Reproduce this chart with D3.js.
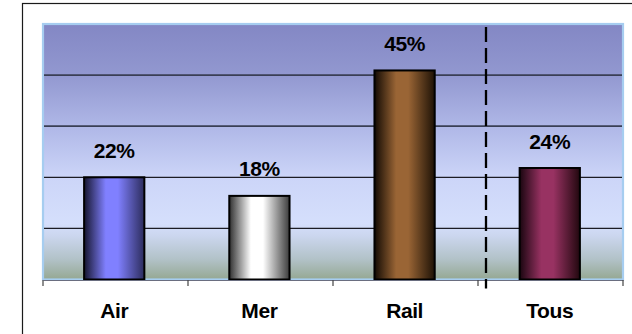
<!DOCTYPE html>
<html>
<head>
<meta charset="utf-8">
<script src="https://cdn.jsdelivr.net/npm/d3@7"></script>
<style>
  html, body { margin: 0; padding: 0; background: #ffffff; }
  svg { display: block; }
  text { font-family: "Liberation Sans", Arial, sans-serif; font-weight: bold; fill: #000; letter-spacing: -0.4px; }
</style>
</head>
<body>
<svg id="chart" width="632" height="334"></svg>
<script>
// Share by transport mode
const categories = ["Air", "Mer", "Rail", "Tous"];
const values = [0.22, 0.18, 0.45, 0.24];
const valueLabels = ["22%", "18%", "45%", "24%"];
const gridValues = [0.11, 0.22, 0.33, 0.44];
// bar shading: [edge, centre, far edge]
const barShades = [
  ["#15152e", "#8080ff", "#2c2c5c"],
  ["#303030", "#ffffff", "#3c3c3c"],
  ["#120a03", "#9a6535", "#1e1206"],
  ["#1a0610", "#983262", "#22080f"]
];

const svg = d3.select("#chart");
const plot = { left: 43, right: 623, top: 24, bottom: 279.5 };

const x = d3.scaleBand()
  .domain(categories)
  .range([plot.left, plot.right])
  .paddingInner(0.585)
  .paddingOuter(0.29);

const band = d3.scaleBand().domain(categories).range([plot.left, plot.right]);

const y = d3.scaleLinear()
  .domain([0, 0.55])
  .range([plot.bottom, plot.top]);

const defs = svg.append("defs");

// plot background: violet at top, pale blue in the middle, grey-green at the floor
const bg = defs.append("linearGradient")
  .attr("id", "bg").attr("x1", 0).attr("y1", 0).attr("x2", 0).attr("y2", 1);
[
  [0.00, "#8387c4"],
  [0.20, "#9298d0"],
  [0.40, "#afb7e7"],
  [0.60, "#ccd5f8"],
  [0.78, "#d5dffc"],
  [0.83, "#cbd6ee"],
  [0.92, "#b2c2c8"],
  [1.00, "#95a893"]
].forEach(([o, c]) => bg.append("stop").attr("offset", o).attr("stop-color", c));

barShades.forEach((s, i) => {
  const g = defs.append("linearGradient")
    .attr("id", "bar" + i).attr("x1", 0).attr("y1", 0).attr("x2", 1).attr("y2", 0);
  g.append("stop").attr("offset", 0).attr("stop-color", s[0]);
  g.append("stop").attr("offset", 0.36).attr("stop-color", s[1]);
  g.append("stop").attr("offset", 0.56).attr("stop-color", s[1]);
  g.append("stop").attr("offset", 1).attr("stop-color", s[2]);
});

// outer frame
svg.append("rect")
  .attr("x", 22.5).attr("y", 3.5)
  .attr("width", 800).attr("height", 500)
  .attr("fill", "none").attr("stroke", "#1a1a1a").attr("stroke-width", 1.2);

// plot area
svg.append("rect")
  .attr("x", plot.left).attr("y", plot.top)
  .attr("width", plot.right - plot.left).attr("height", plot.bottom - plot.top)
  .attr("fill", "url(#bg)")
  .attr("stroke", "#a6cdf0").attr("stroke-width", 2.2);

// horizontal gridlines
svg.append("g").selectAll("line")
  .data(gridValues)
  .join("line")
  .attr("x1", plot.left + 1).attr("x2", plot.right - 1)
  .attr("y1", d => y(d)).attr("y2", d => y(d))
  .attr("stroke", (d, i) => i >= 2 ? "#3a3f55" : "#1c1c24")
  .attr("stroke-width", (d, i) => i >= 2 ? 1.8 : 1.3);

// bars
svg.append("g").selectAll("rect")
  .data(values)
  .join("rect")
  .attr("x", (d, i) => x(categories[i]) - 1)
  .attr("y", d => y(d))
  .attr("width", x.bandwidth())
  .attr("height", d => y(0) - y(d))
  .attr("fill", (d, i) => `url(#bar${i})`)
  .attr("stroke", "#000").attr("stroke-width", 2);

// x axis
const axis = svg.append("g")
  .attr("transform", `translate(0,${plot.bottom + 0.5})`)
  .call(d3.axisBottom(band).tickSize(0).tickFormat(""));
axis.select(".domain").attr("stroke", "#6a6e80").attr("stroke-width", 1.2);
const bounds = categories.map(c => band(c)).concat([plot.right]);
axis.selectAll(".bound")
  .data(bounds)
  .join("line")
  .attr("class", "bound")
  .attr("x1", d => d).attr("x2", d => d)
  .attr("y1", 0).attr("y2", 6)
  .attr("stroke", "#444").attr("stroke-width", 1.2);

// category labels
svg.append("g").selectAll("text")
  .data(categories)
  .join("text")
  .attr("x", d => x(d) - 1 + x.bandwidth() / 2)
  .attr("y", 317.5)
  .attr("text-anchor", "middle")
  .attr("font-size", 21)
  .text(d => d);

// value labels
svg.append("g").selectAll("text")
  .data(values)
  .join("text")
  .attr("x", (d, i) => x(categories[i]) - 1 + x.bandwidth() / 2)
  .attr("y", d => y(d) - 19.5)
  .attr("text-anchor", "middle")
  .attr("font-size", 21)
  .text((d, i) => valueLabels[i]);

// divider between modes and overall total
const divX = band("Tous") + 8;
svg.append("line")
  .attr("x1", divX).attr("x2", divX)
  .attr("y1", 27).attr("y2", 288.5)
  .attr("stroke", "#000").attr("stroke-width", 2.3)
  .attr("stroke-dasharray", "15,6");
</script>
</body>
</html>
